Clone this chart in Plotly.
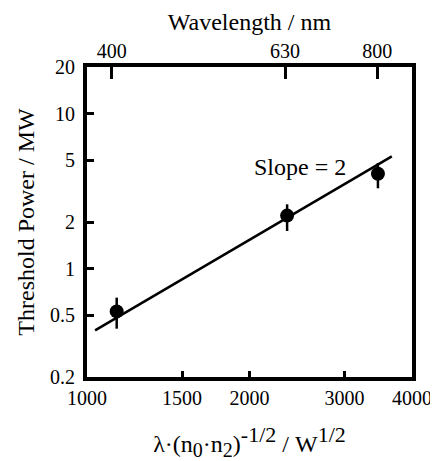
import math
import plotly.graph_objects as go

# Data
x_vals = [1135, 2348, 3459]
y_vals = [0.53, 2.2, 4.1]
err_plus = [0.12, 0.40, 0.70]
err_minus = [0.12, 0.45, 0.80]

fit_x = [1035, 3670]
fit_y = [0.40, 5.3]

x_ticks = [1000, 1500, 2000, 3000, 4000]
y_ticks = [0.2, 0.5, 1, 2, 5, 10, 20]
y_tick_text = ["0.2", "0.5", "1", "2", "5", "10", "20"]
wl_tick_pos = [1111, 2328, 3449]
wl_tick_text = ["400", "630", "800"]

FF = "Liberation Serif"
tickfont = dict(family=FF, size=20, color="black")
titlefont = dict(family=FF, size=24, color="black")

x_title = ("λ·(n<sub><span style='font-size:20px'>0</span></sub>·"
           "n<sub><span style='font-size:20px'>2</span></sub>)"
           "<sup><span style='font-size:22px'>-1/2</span></sup> / "
           "W<sup><span style='font-size:22px'>1/2</span></sup>")

fig = go.Figure()

fig.add_trace(go.Scatter(
    x=fit_x, y=fit_y, mode="lines",
    line=dict(color="black", width=2.5),
    showlegend=False, hoverinfo="skip"))

fig.add_trace(go.Scatter(
    x=x_vals, y=y_vals, mode="markers",
    marker=dict(color="black", size=14),
    error_y=dict(type="data", symmetric=False, array=err_plus,
                 arrayminus=err_minus, color="black", thickness=2.5, width=0),
    showlegend=False))

# invisible trace to attach the top axis
fig.add_trace(go.Scatter(
    x=x_vals, y=y_vals, xaxis="x2", mode="markers",
    marker=dict(opacity=0), showlegend=False, hoverinfo="skip"))

xr = [math.log10(1000), math.log10(4000)]

fig.update_layout(
    width=430, height=453,
    margin=dict(l=79, r=26, t=59, b=84),
    paper_bgcolor="white", plot_bgcolor="white",
    font=dict(family=FF, color="black", size=20),
    xaxis=dict(
        type="log", range=xr, tickvals=x_ticks,
        ticktext=[str(v) for v in x_ticks],
        ticks="inside", ticklen=6, tickwidth=2.5, tickcolor="black",
        showline=True, linewidth=4, linecolor="black", mirror=True,
        showgrid=False, zeroline=False, automargin=False,
        tickfont=tickfont,
        title=dict(text=x_title, font=titlefont, standoff=30),
    ),
    xaxis2=dict(
        type="log", range=xr, overlaying="x", side="top", anchor="y",
        tickvals=wl_tick_pos, ticktext=wl_tick_text,
        ticks="inside", ticklen=12, tickwidth=2.5, tickcolor="black",
        showline=False, showgrid=False, zeroline=False, automargin=False,
        tickfont=tickfont, ticklabelstandoff=4,
        title=dict(text="Wavelength / nm", font=titlefont, standoff=2),
    ),
    yaxis=dict(
        type="log", range=[math.log10(0.2), math.log10(20)],
        tickvals=y_ticks, ticktext=y_tick_text,
        ticks="inside", ticklen=7, tickwidth=2.5, tickcolor="black",
        showline=True, linewidth=4, linecolor="black", mirror=True,
        showgrid=False, zeroline=False, automargin=False,
        tickfont=tickfont, ticklabelstandoff=4,
        title=dict(text="Threshold Power / MW", font=titlefont, standoff=10),
    ),
    annotations=[dict(
        x=math.log10(2480), y=math.log10(4.55), xref="x", yref="y",
        text="Slope = 2", showarrow=False,
        font=dict(family=FF, size=24, color="black"))],
)

fig.write_html("out.html")
